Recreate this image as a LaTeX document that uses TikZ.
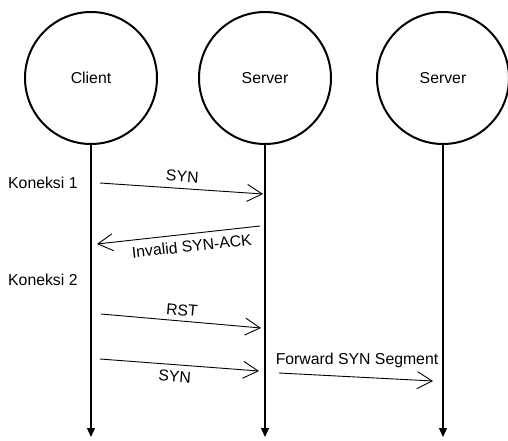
\documentclass[tikz,border=0pt]{standalone}
\usepackage{fontspec}
\setmainfont{Liberation Sans}
\usetikzlibrary{arrows.meta}
\begin{document}
\begin{tikzpicture}[x=1pt,y=-1pt,
  actor/.style={circle,draw,line width=2pt,minimum size=132pt,inner sep=0pt,font=\fontsize{15.8}{18}\selectfont},
  life/.style={line width=1.2pt,-{Triangle[length=9pt,width=8pt]}},
  msg/.style={line width=0.9pt,-{Straight Barb[length=15pt,width=17pt,line width=0.9pt]}},
  lbl/.style={font=\fontsize{15.8}{18}\selectfont,inner sep=0pt}]
\useasboundingbox (0,0) rectangle (508,440);
\node[actor] (c) at (91,78) {Client};
\node[actor] (s1) at (265,78) {Server};
\node[actor] (s2) at (443,78) {Server};
\coordinate (ce) at (91,437);
\coordinate (s1e) at (265,437);
\coordinate (s2e) at (443,437);
\draw[life] (c.south) -- (ce);
\draw[life] (s1.south) -- (s1e);
\draw[life] (s2.south) -- (s2e);
\node[lbl,anchor=west] (k1) at (8,183) {Koneksi 1};
\node[lbl,anchor=west] (k2) at (8,280) {Koneksi 2};
\coordinate (a1) at (100,183); \coordinate (b1) at (263,194);
\draw[msg] (a1) -- (b1) node[lbl,midway,sloped,above=6pt] (l1) {SYN};
\coordinate (a2) at (260,226); \coordinate (b2) at (97,244);
\draw[msg] (a2) -- (b2) node[lbl,midway,sloped,below=6pt,xshift=12pt] (l2) {Invalid SYN-ACK};
\coordinate (a3) at (101,314); \coordinate (b3) at (261,328);
\draw[msg] (a3) -- (b3) node[lbl,midway,sloped,above=5pt] (l3) {RST};
\coordinate (a4) at (100,359); \coordinate (b4) at (259,371);
\draw[msg] (a4) -- (b4) node[lbl,midway,sloped,below=6pt,xshift=-4pt] (l4) {SYN};
\coordinate (a5) at (279,373); \coordinate (b5) at (433,381);
\draw[msg] (a5) -- (b5);
\node[lbl] (l5) at (357,360) {Forward SYN Segment};
\end{tikzpicture}
\end{document}
